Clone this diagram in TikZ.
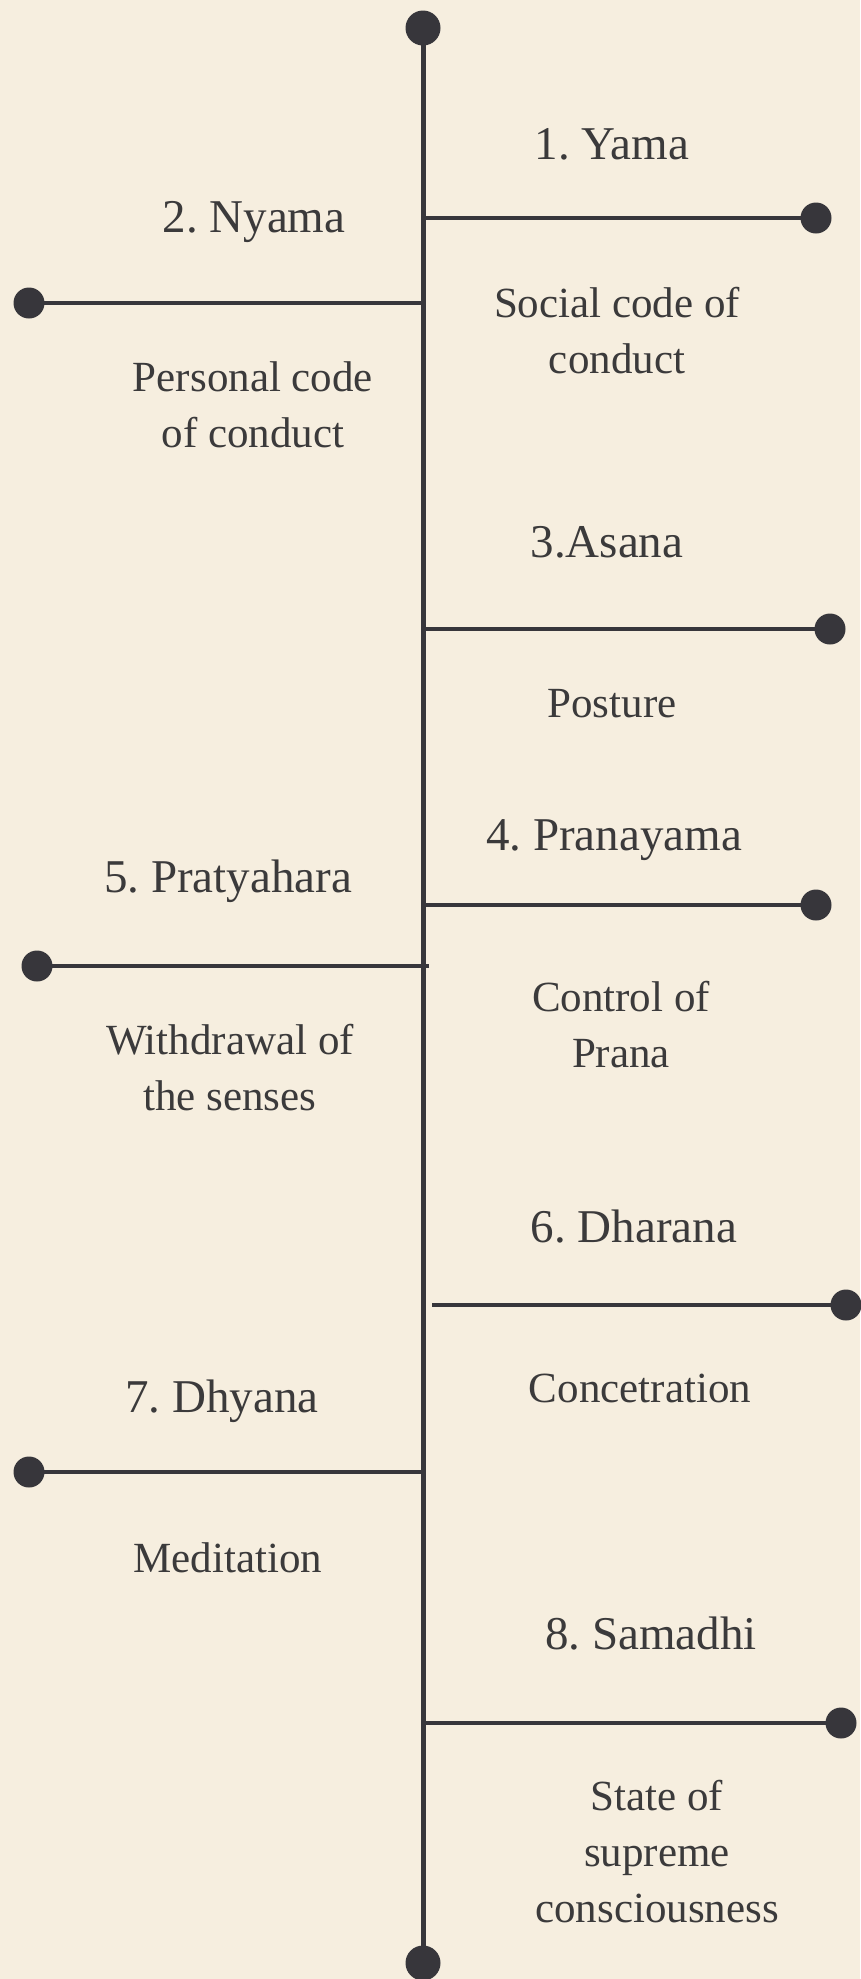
\documentclass[tikz,border=0pt]{standalone}
\usepackage{fontspec}
\setmainfont{Liberation Serif}
\frenchspacing
\definecolor{bg}{HTML}{F6EEDF}
\definecolor{ink}{HTML}{37363B}
\definecolor{txt}{HTML}{3B3A3B}
\begin{document}
\begin{tikzpicture}[x=1pt,y=-1pt,
  spine/.style={draw=ink,line width=5pt},
  branch/.style={draw=ink,line width=4.5pt},
  enddot/.style={circle,fill=ink,inner sep=0pt,minimum size=31pt},
  bigdot/.style={circle,fill=ink,inner sep=0pt,minimum size=35pt},
  title/.style={anchor=base,text=txt,font=\frenchspacing\fontsize{47}{56}\selectfont,inner sep=0pt},
  desc/.style={anchor=base,text=txt,align=center,font=\frenchspacing\fontsize{43}{56}\selectfont,inner sep=0pt}]
\fill[bg] (0,0) rectangle (860,1979);
\useasboundingbox (0,0) rectangle (860,1979);
% spine
\node[bigdot] (top) at (423,28) {};
\node[bigdot] (bot) at (423,1963) {};
\draw[spine] (top.center) -- (bot.center);
% junctions and ends
\coordinate (j1) at (423,218);  \node[enddot] (e1) at (816,218) {};
\coordinate (j2) at (423,303);  \node[enddot] (e2) at (29,303) {};
\coordinate (j3) at (423,629);  \node[enddot] (e3) at (830,629) {};
\coordinate (j4) at (423,905);  \node[enddot] (e4) at (816,905) {};
\coordinate (j5) at (429,966);  \node[enddot] (e5) at (37,966) {};
\coordinate (j6) at (432,1305); \node[enddot] (e6) at (846,1305) {};
\coordinate (j7) at (423,1472); \node[enddot] (e7) at (29,1472) {};
\coordinate (j8) at (423,1723); \node[enddot] (e8) at (841,1723) {};
\foreach \i in {1,...,8} {\draw[branch] (j\i) -- (e\i.center);}
% labels (multi-line nodes: base = last line)
\node[title] (t1) at (612,159) {1. Yama};
\node[desc]  (d1) at (617,373) {Social code of\\conduct};
\node[title] (t2) at (254,232) {2. Nyama};
\node[desc]  (d2) at (253,447) {Personal code\\of conduct};
\node[title] (t3) at (607,557) {3.Asana};
\node[desc]  (d3) at (612,717) {Posture};
\node[title] (t4) at (614,850) {4. Pranayama};
\node[desc]  (d4) at (621,1067) {Control of\\Prana};
\node[title] (t5) at (228,892) {5. Pratyahara};
\node[desc]  (d5) at (230,1110) {Withdrawal of\\the senses};
\node[title] (t6) at (634,1242) {6. Dharana};
\node[desc]  (d6) at (640,1402) {Concetration};
\node[title] (t7) at (222,1412) {7. Dhyana};
\node[desc]  (d7) at (228,1572) {Meditation};
\node[title] (t8) at (651,1649) {8. Samadhi};
\node[desc]  (d8) at (657,1922) {State of\\supreme\\consciousness};
\end{tikzpicture}
\end{document}
